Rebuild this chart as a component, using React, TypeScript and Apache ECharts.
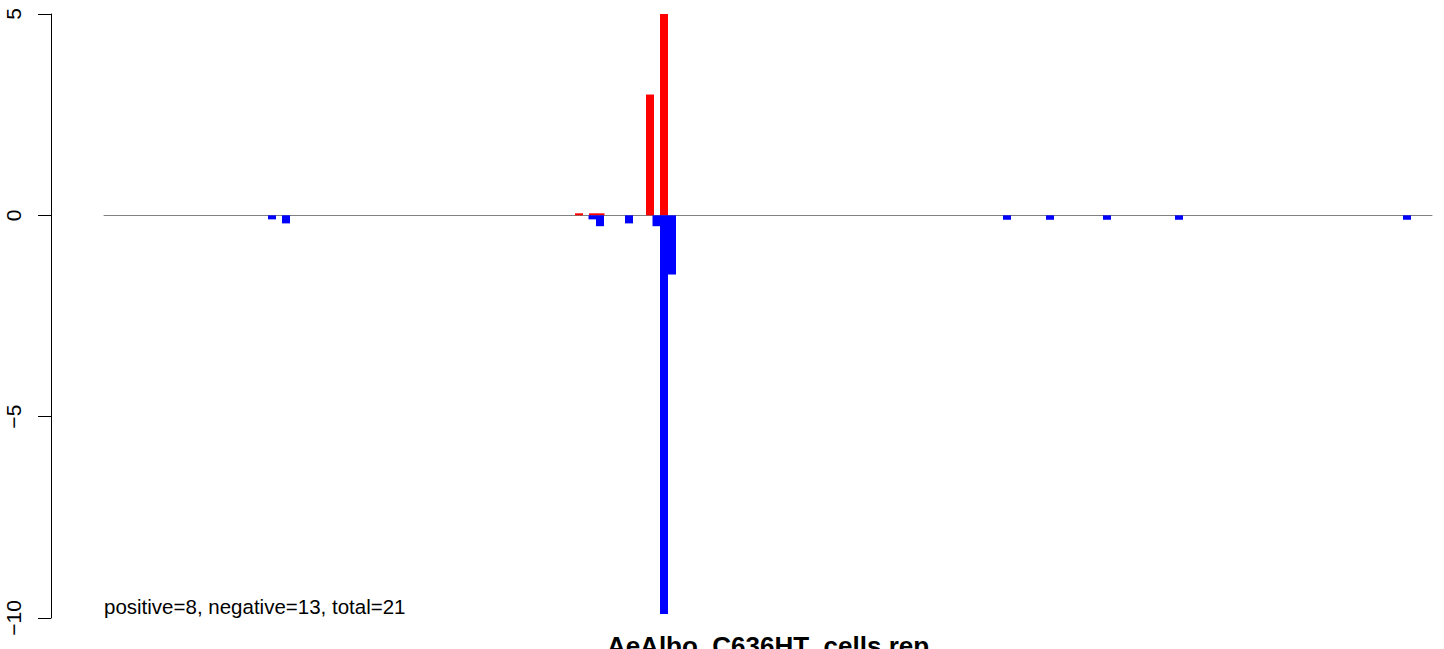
import React, { useEffect, useRef } from "react";
import * as echarts from "echarts";

// genomic positions (arbitrary units) and values
const posX = [475, 489, 496.5, 546, 560];
const posY = [0.05, 0.05, 0.05, 3.0, 5.0];
const negX = [168, 182, 488.5, 496, 525, 552.5, 560, 568, 903, 946, 1003, 1075, 1303];
const negY = [-0.1, -0.2, -0.1, -0.27, -0.2, -0.27, -9.9, -1.47, -0.11, -0.11, -0.11, -0.11, -0.11];
const yTicks = [-10, -5, 0, 5];
const summary = "positive=8, negative=13, total=21";
const title = "AeAlbo_C636HT_cells.rep";

export default function App() {
  const ref = useRef<HTMLDivElement>(null);
  useEffect(() => {
    const chart = echarts.init(ref.current!, null, { renderer: "svg" });
    const font = "Liberation Sans, Arial, Helvetica, sans-serif";
    chart.setOption({
      animation: false,
      grid: { left: 104, right: 12, top: 14, bottom: 31 },
      xAxis: {
        type: "value",
        min: 0,
        max: 1328,
        axisLine: { show: true, onZero: true, lineStyle: { color: "#808080", width: 1 } },
        axisTick: { show: false },
        axisLabel: { show: false },
        splitLine: { show: false },
      },
      yAxis: {
        type: "value",
        min: yTicks[0],
        max: yTicks[yTicks.length - 1],
        interval: 5,
        offset: 53,
        axisLine: { show: true, onZero: false, lineStyle: { color: "#000", width: 1 } },
        axisTick: { show: true, length: 13, lineStyle: { color: "#000", width: 1 } },
        axisLabel: {
          rotate: 90,
          margin: 27,
          fontFamily: font,
          fontSize: 21,
          color: "#000",
          formatter: (v: number) => String(v).replace("-", "\u2212"),
        },
        splitLine: { show: false },
      },
      series: [
        {
          type: "bar",
          data: posX.map((x, i) => [x, posY[i]]),
          barWidth: 8,
          barGap: "-100%",
          itemStyle: { color: "#FF0000" },
        },
        {
          type: "bar",
          data: negX.map((x, i) => [x, negY[i]]),
          barWidth: 8,
          barGap: "-100%",
          itemStyle: { color: "#0000FF" },
        },
      ],
      graphic: [
        {
          type: "text",
          left: 104,
          top: 596,
          style: { text: summary, fontFamily: font, fontSize: 20.5, fill: "#000" },
        },
        {
          type: "text",
          x: 768,
          y: 633,
          style: {
            text: title,
            fontFamily: font,
            fontSize: 26,
            fontWeight: "bold",
            fill: "#000",
            textAlign: "center",
            textVerticalAlign: "top",
          },
        },
      ],
    });
    return () => chart.dispose();
  }, []);
  return <div ref={ref} style={{ width: 1444, height: 649, position: "absolute", left: 0, top: 0 }} />;
}
